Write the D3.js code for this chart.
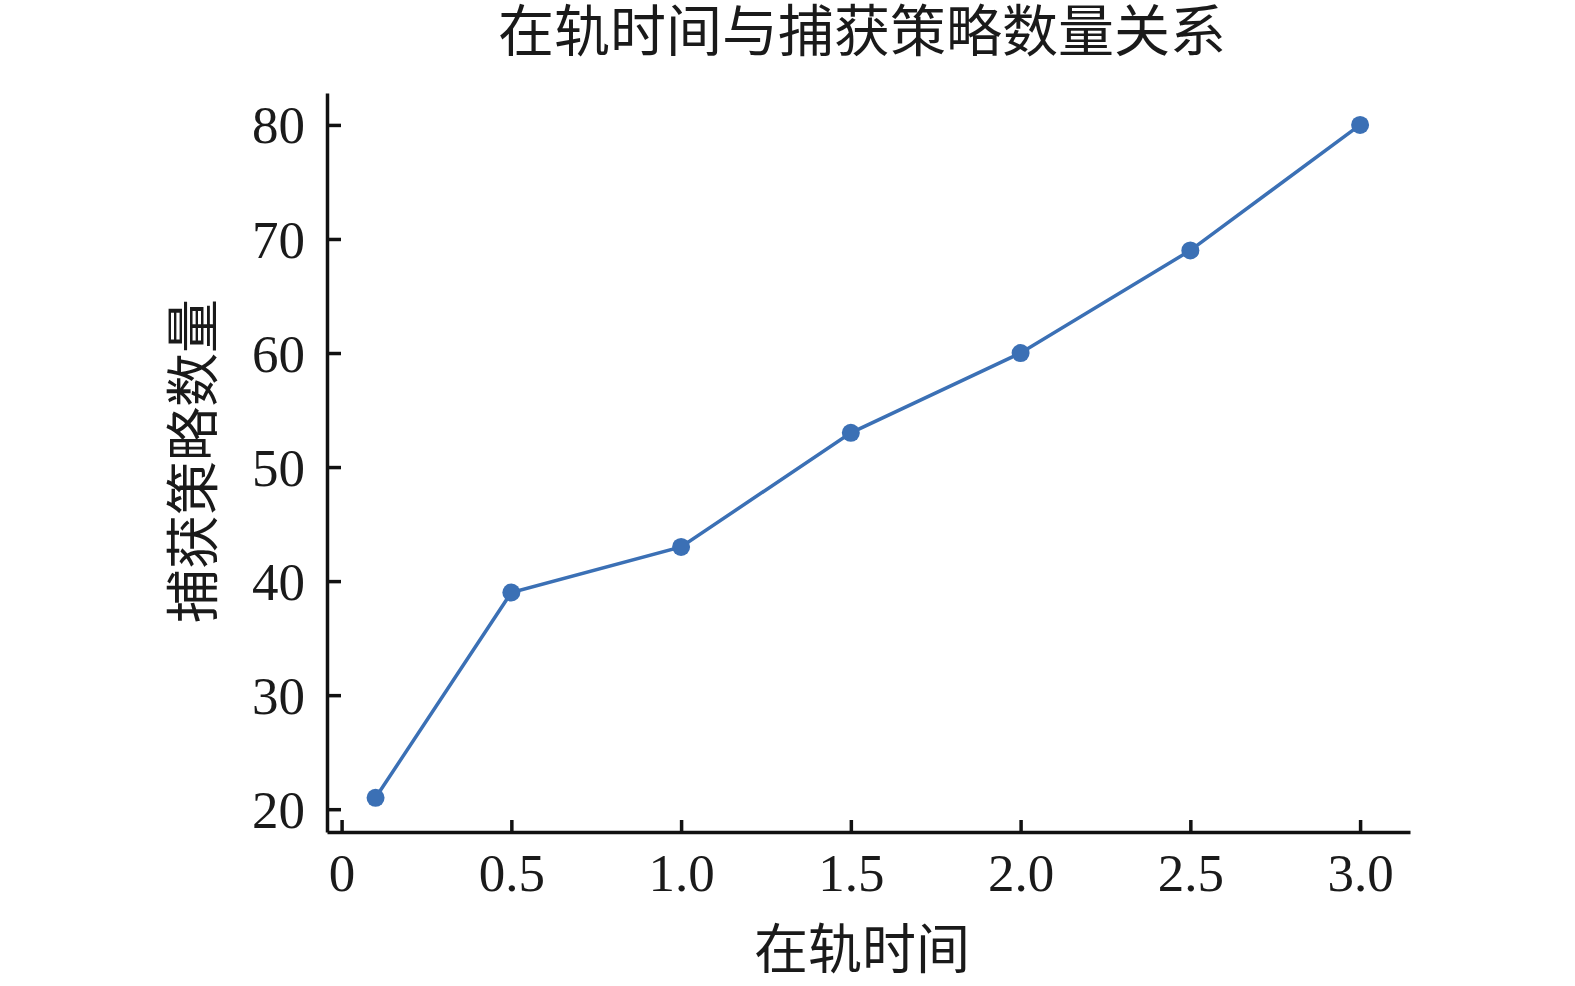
<!DOCTYPE html>
<html>
<head>
<meta charset="utf-8">
<script src="https://cdn.jsdelivr.net/npm/d3@7"></script>
<style>
  body { margin: 0; background: #fff; }
  text { font-family: "Liberation Serif", "Noto Sans CJK SC", serif; fill: #1a1a1a; }
</style>
</head>
<body>
<div id="chart"></div>
<script>
// Orbit time vs. number of capture strategies
const orbitTime = [0.1, 0.5, 1.0, 1.5, 2.0, 2.5, 3.0];
const strategyCount = [21, 39, 43, 53, 60, 69, 80];
const xTicks = [0, 0.5, 1.0, 1.5, 2.0, 2.5, 3.0];
const yTicks = [20, 30, 40, 50, 60, 70, 80];

const width = 1575, height = 986;
const margin = { top: 93, right: 165, bottom: 154, left: 327 };
const color = '#3b70b5';

const svg = d3.select('#chart').append('svg')
  .attr('width', width)
  .attr('height', height);

const x = d3.scaleLinear()
  .domain([-0.043, 3.147])
  .range([margin.left, width - margin.right]);

const y = d3.scaleLinear()
  .domain([18.0, 82.8])
  .range([height - margin.bottom, margin.top]);

// Axes: ticks point inward
const xAxis = d3.axisBottom(x)
  .tickValues(xTicks)
  .tickSizeInner(-12)
  .tickSizeOuter(0)
  .tickPadding(21)
  .tickFormat(d => d === 0 ? '0' : d.toFixed(1));

const yAxis = d3.axisLeft(y)
  .tickValues(yTicks)
  .tickSizeInner(-14)
  .tickSizeOuter(0)
  .tickPadding(22);

const gx = svg.append('g')
  .attr('transform', `translate(0,${height - margin.bottom})`)
  .call(xAxis);

const gy = svg.append('g')
  .attr('transform', `translate(${margin.left},0)`)
  .call(yAxis);

[gx, gy].forEach(g => {
  g.select('.domain').attr('stroke', '#111').attr('stroke-width', 3.5);
  g.selectAll('.tick line').attr('stroke', '#111').attr('stroke-width', 3.5);
  g.selectAll('.tick text')
    .style('font-family', '"Liberation Serif", serif')
    .style('font-size', '53px')
    .attr('fill', '#1a1a1a');
});
gx.selectAll('.tick text').attr('dy', '0.71em');
gy.selectAll('.tick text').attr('dy', '0.34em');

// Line + markers
const points = orbitTime.map((t, i) => ({ t, n: strategyCount[i] }));

const line = d3.line()
  .x(d => x(d.t))
  .y(d => y(d.n));

svg.append('path')
  .datum(points)
  .attr('fill', 'none')
  .attr('stroke', color)
  .attr('stroke-width', 3.5)
  .attr('d', line);

svg.selectAll('.dot')
  .data(points)
  .enter()
  .append('circle')
  .attr('class', 'dot')
  .attr('cx', d => x(d.t))
  .attr('cy', d => y(d.n))
  .attr('r', 9)
  .attr('fill', color);

// Title and axis labels
svg.append('text')
  .attr('x', 862)
  .attr('y', 51)
  .attr('text-anchor', 'middle')
  .style('font-size', '56px')
  .text('在轨时间与捕获策略数量关系');

svg.append('text')
  .attr('x', 862)
  .attr('y', 969)
  .attr('text-anchor', 'middle')
  .style('font-size', '54px')
  .text('在轨时间');

svg.append('text')
  .attr('transform', 'translate(213,461) rotate(-90)')
  .attr('text-anchor', 'middle')
  .style('font-size', '54px')
  .text('捕获策略数量');
</script>
</body>
</html>
